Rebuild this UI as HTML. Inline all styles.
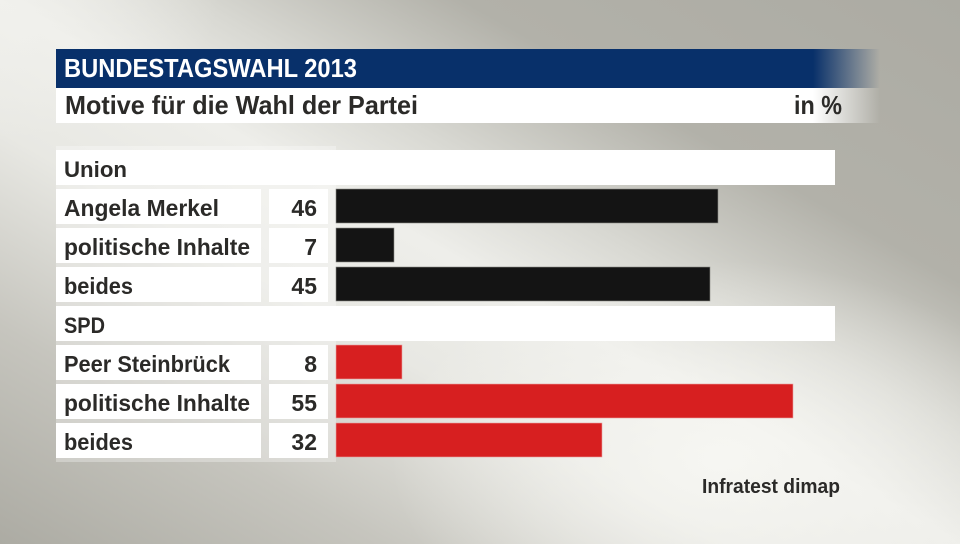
<!DOCTYPE html>
<html><head><meta charset="utf-8"><style>
html,body{margin:0;padding:0;}
body{width:960px;height:544px;overflow:hidden;position:relative;
background:linear-gradient(to bottom left,#acaba3 0%,#b2b1a9 26%,#d8d8d2 40%,#eeeeea 50%,#e8e8e3 62%,#c6c5be 80%,#acaba3 100%);}
#glow{position:absolute;left:0;top:0;width:960px;height:544px;
background:radial-gradient(ellipse 330px 200px at 720px 460px,rgba(248,248,244,0.85),rgba(248,248,244,0) 100%),
radial-gradient(ellipse 220px 140px at 0px 0px,rgba(242,242,238,0.7),rgba(242,242,238,0) 100%);}
svg{position:absolute;left:0;top:0;}
text{font-family:"Liberation Sans",sans-serif;font-weight:bold;}
</style></head><body>
<div id="glow"></div>
<svg width="960" height="544" viewBox="0 0 960 544" xmlns="http://www.w3.org/2000/svg">
<defs>
<linearGradient id="navy" gradientUnits="userSpaceOnUse" x1="813" y1="0" x2="880" y2="0">
<stop offset="0" stop-color="#08306a" stop-opacity="1"/>
<stop offset="1" stop-color="#08306a" stop-opacity="0"/>
</linearGradient>
<linearGradient id="wht" gradientUnits="userSpaceOnUse" x1="813" y1="0" x2="880" y2="0">
<stop offset="0" stop-color="#ffffff" stop-opacity="1"/>
<stop offset="1" stop-color="#ffffff" stop-opacity="0"/>
</linearGradient>
</defs>
<rect x="56" y="49" width="824" height="39" fill="url(#navy)"/>
<rect x="56" y="88" width="824" height="35" fill="url(#wht)"/>
<text x="64" y="77" font-size="26" fill="#ffffff" textLength="293" lengthAdjust="spacingAndGlyphs">BUNDESTAGSWAHL 2013</text>
<text x="65" y="114" font-size="26" fill="#2b2a28" textLength="353" lengthAdjust="spacingAndGlyphs">Motive für die Wahl der Partei</text>
<text x="794" y="114" font-size="26" fill="#2b2a28" textLength="48" lengthAdjust="spacingAndGlyphs">in %</text>

<rect x="56" y="146" width="280" height="316" fill="#ffffff" fill-opacity="0.3"/>

<!-- Union -->
<rect x="56" y="150" width="779" height="35" fill="#ffffff"/>
<text x="64" y="177" font-size="22" fill="#2b2a28" textLength="63" lengthAdjust="spacingAndGlyphs">Union</text>

<rect x="56" y="189" width="205" height="35" fill="#ffffff"/>
<rect x="269" y="189" width="59" height="35" fill="#ffffff"/>
<text x="64" y="216" font-size="23" fill="#2b2a28" textLength="155" lengthAdjust="spacingAndGlyphs">Angela Merkel</text>
<text x="317" y="216" font-size="23" fill="#2b2a28" text-anchor="end">46</text>
<rect x="336" y="189" width="382" height="34" fill="#141414" stroke="#8a8a86" stroke-width="0.6"/>

<rect x="56" y="228" width="205" height="35" fill="#ffffff"/>
<rect x="269" y="228" width="59" height="35" fill="#ffffff"/>
<text x="64" y="255" font-size="23" fill="#2b2a28" textLength="186" lengthAdjust="spacingAndGlyphs">politische Inhalte</text>
<text x="317" y="255" font-size="23" fill="#2b2a28" text-anchor="end">7</text>
<rect x="336" y="228" width="58" height="34" fill="#141414" stroke="#8a8a86" stroke-width="0.6"/>

<rect x="56" y="267" width="205" height="35" fill="#ffffff"/>
<rect x="269" y="267" width="59" height="35" fill="#ffffff"/>
<text x="64" y="294" font-size="23" fill="#2b2a28" textLength="69" lengthAdjust="spacingAndGlyphs">beides</text>
<text x="317" y="294" font-size="23" fill="#2b2a28" text-anchor="end">45</text>
<rect x="336" y="267" width="374" height="34" fill="#141414" stroke="#8a8a86" stroke-width="0.6"/>

<!-- SPD -->
<rect x="56" y="306" width="779" height="35" fill="#ffffff"/>
<text x="64" y="333" font-size="22" fill="#2b2a28" textLength="41" lengthAdjust="spacingAndGlyphs">SPD</text>

<rect x="56" y="345" width="205" height="35" fill="#ffffff"/>
<rect x="269" y="345" width="59" height="35" fill="#ffffff"/>
<text x="64" y="372" font-size="23" fill="#2b2a28" textLength="166" lengthAdjust="spacingAndGlyphs">Peer Steinbrück</text>
<text x="317" y="372" font-size="23" fill="#2b2a28" text-anchor="end">8</text>
<rect x="336" y="345" width="66" height="34" fill="#d71f20" stroke="#e8a0a0" stroke-width="0.6"/>

<rect x="56" y="384" width="205" height="35" fill="#ffffff"/>
<rect x="269" y="384" width="59" height="35" fill="#ffffff"/>
<text x="64" y="411" font-size="23" fill="#2b2a28" textLength="186" lengthAdjust="spacingAndGlyphs">politische Inhalte</text>
<text x="317" y="411" font-size="23" fill="#2b2a28" text-anchor="end">55</text>
<rect x="336" y="384" width="457" height="34" fill="#d71f20" stroke="#e8a0a0" stroke-width="0.6"/>

<rect x="56" y="423" width="205" height="35" fill="#ffffff"/>
<rect x="269" y="423" width="59" height="35" fill="#ffffff"/>
<text x="64" y="450" font-size="23" fill="#2b2a28" textLength="69" lengthAdjust="spacingAndGlyphs">beides</text>
<text x="317" y="450" font-size="23" fill="#2b2a28" text-anchor="end">32</text>
<rect x="336" y="423" width="266" height="34" fill="#d71f20" stroke="#e8a0a0" stroke-width="0.6"/>

<text x="702" y="493" font-size="20" fill="#2b2a28" textLength="138" lengthAdjust="spacingAndGlyphs">Infratest dimap</text>
</svg>
</body></html>
